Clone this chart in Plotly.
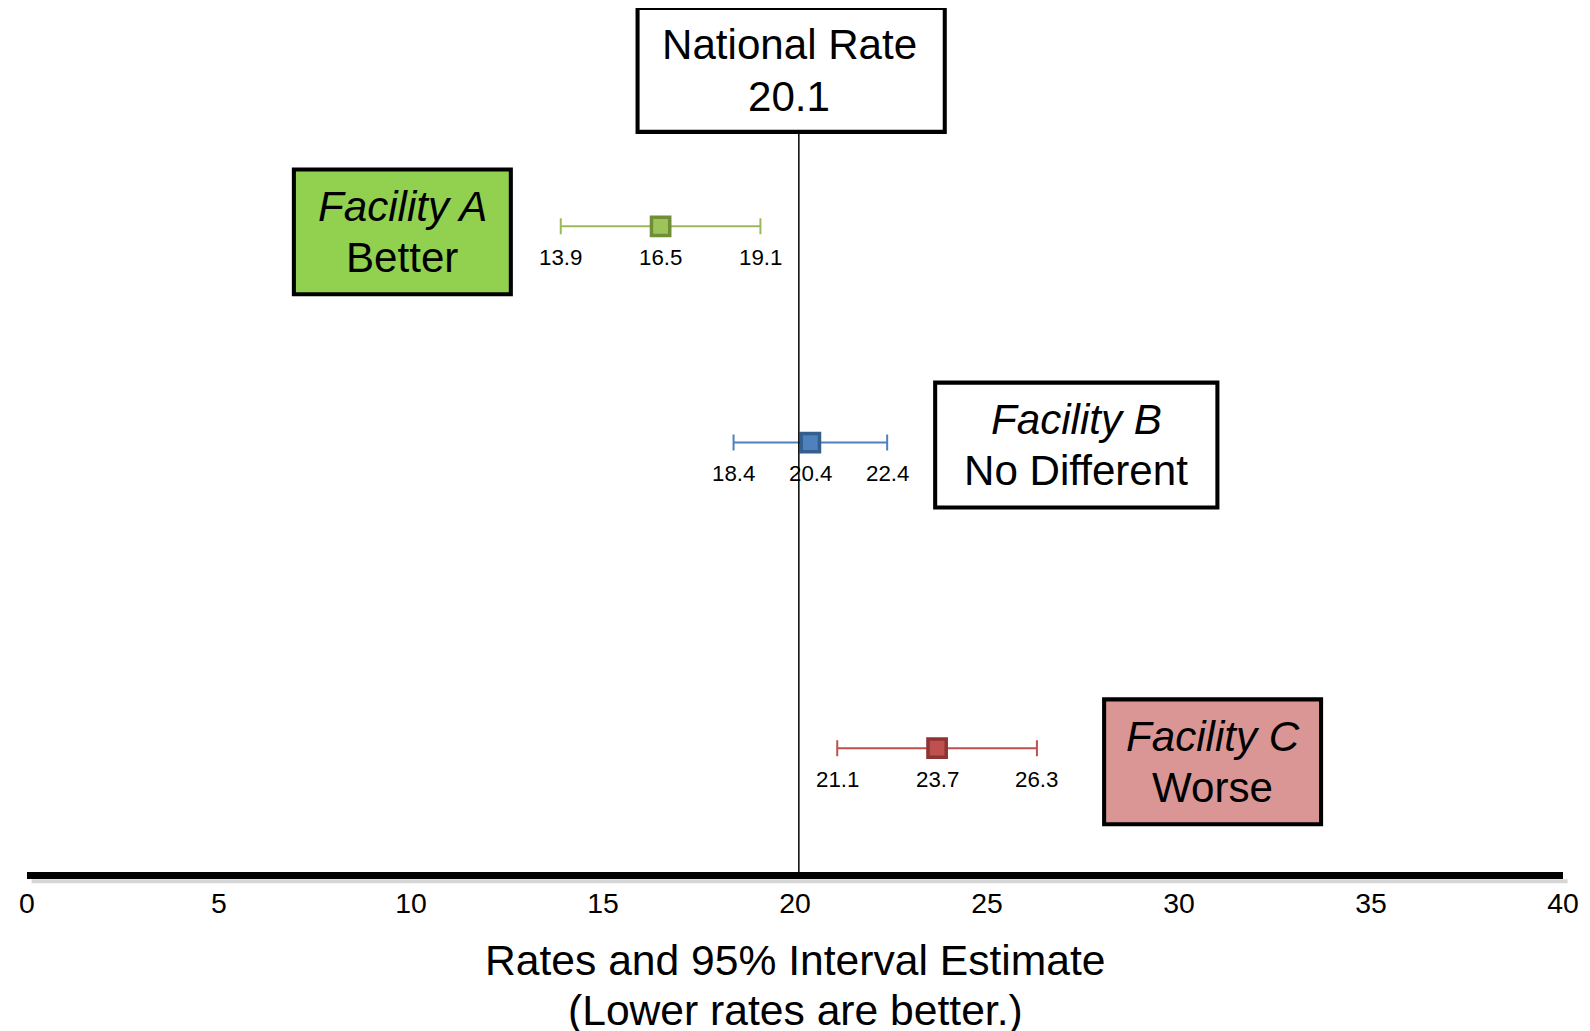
import plotly.graph_objects as go

# ---- data ----
facilities = ["Facility A", "Facility B", "Facility C"]
ratings = ["Better", "No Different", "Worse"]
rate = [16.5, 20.4, 23.7]
lower = [13.9, 18.4, 21.1]
upper = [19.1, 22.4, 26.3]
national_rate = 20.1
x_ticks = [0, 5, 10, 15, 20, 25, 30, 35, 40]

# ---- layout constants (vertical layout units grow downward) ----
K = 1.0147  # size compensation
row_y = [223, 436, 737]
line_col = ["#9BBB59", "#4F81BD", "#C0504D"]
mk_fill = ["#9DC45A", "#4F81BD", "#C0504D"]
mk_edge = ["#6F8E35", "#335E8E", "#8E3333"]
box_fill = ["#92D050", "#FFFFFF", "#D99694"]
box_x = [(6.95, 12.6), (23.65, 31.0), (28.05, 33.7)]
box_y = [(167, 290), (377, 500), (689, 812)]
FONT = "Liberation Sans, Arial, sans-serif"
BIG = 41.5 * K
SMALL = 22 * K
TICK = 28 * K

fig = go.Figure()

for i in range(3):
    fig.add_trace(go.Scatter(
        x=[rate[i]], y=[row_y[i]], mode="markers",
        marker=dict(symbol="square", size=18 * K, color=mk_fill[i],
                    line=dict(color=mk_edge[i], width=3.5)),
        error_x=dict(type="data", symmetric=False,
                     array=[upper[i] - rate[i]], arrayminus=[rate[i] - lower[i]],
                     color=line_col[i], thickness=2, width=8),
        showlegend=False, hoverinfo="x",
    ))
    for v in (lower[i], rate[i], upper[i]):
        fig.add_annotation(x=v, y=row_y[i], text=f"{v:.1f}", showarrow=False,
                           yshift=-31 * K, font=dict(family=FONT, size=SMALL, color="black"))
    fig.add_shape(type="rect", xref="x", yref="y",
                  x0=box_x[i][0], x1=box_x[i][1], y0=box_y[i][0], y1=box_y[i][1],
                  line=dict(color="black", width=4 * K), fillcolor=box_fill[i], layer="below")
    cx = (box_x[i][0] + box_x[i][1]) / 2
    cy = (box_y[i][0] + box_y[i][1]) / 2
    fig.add_annotation(x=cx, y=cy - 25, text=f"<i>{facilities[i]}</i>", showarrow=False,
                       font=dict(family=FONT, size=BIG, color="black"))
    fig.add_annotation(x=cx, y=cy + 25, text=ratings[i], showarrow=False,
                       font=dict(family=FONT, size=BIG, color="black"))

# national rate line + box
fig.add_shape(type="line", xref="x", yref="y", x0=national_rate, x1=national_rate,
              y0=130, y1=859, line=dict(color="black", width=1.5))
fig.add_shape(type="rect", xref="x", yref="y", x0=15.9, x1=23.9, y0=8, y1=130,
              line=dict(color="black", width=4 * K), fillcolor="white")
fig.add_annotation(x=19.85, y=44, text="National Rate", showarrow=False,
                   font=dict(family=FONT, size=BIG, color="black"))
fig.add_annotation(x=19.85, y=95, text=f"{national_rate:.1f}", showarrow=False,
                   font=dict(family=FONT, size=BIG, color="black"))

# soft shadow under the axis line
fig.add_shape(type="line", xref="paper", yref="paper", x0=0.003, x1=1.003,
              y0=-0.0108, y1=-0.0108, line=dict(color="rgba(0,0,0,0.16)", width=4))

# axis title (two lines)
fig.add_annotation(xref="paper", yref="paper", x=0.5, y=-0.1022, yanchor="middle",
                   text="Rates and 95% Interval Estimate", showarrow=False,
                   font=dict(family=FONT, size=42 * K, color="black"))
fig.add_annotation(xref="paper", yref="paper", x=0.5, y=-0.1598, yanchor="middle",
                   text="(Lower rates are better.)", showarrow=False,
                   font=dict(family=FONT, size=42 * K, color="black"))

fig.update_layout(
    width=1605, height=1038,
    margin=dict(l=19, r=50, t=0, b=174),
    paper_bgcolor="white", plot_bgcolor="white",
    xaxis=dict(range=[0, 40], tickvals=x_ticks, ticktext=[str(t) for t in x_ticks],
               showgrid=False, zeroline=False, showline=True, linecolor="black",
               linewidth=7 * K, ticks="",
               tickfont=dict(family=FONT, size=TICK, color="black"), fixedrange=True),
    yaxis=dict(range=[859, 8], visible=False, fixedrange=True),
)

fig.write_html("out.html")
